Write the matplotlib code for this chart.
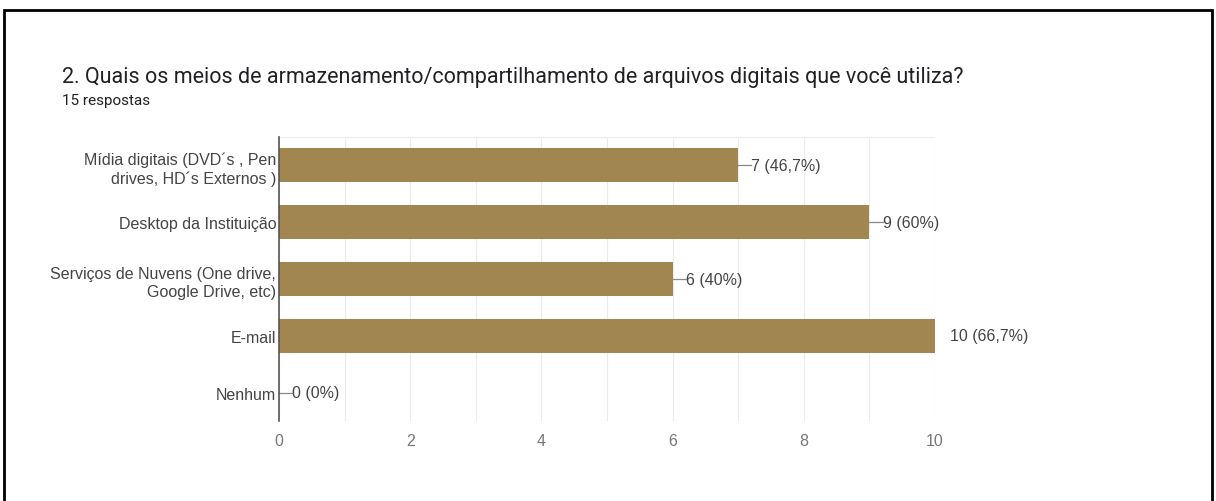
import numpy as np
import matplotlib.pyplot as plt
from matplotlib.patches import Rectangle

categorias = ['Mídia digitais (DVD´s , Pen\ndrives, HD´s Externos )',
              'Desktop da Instituição',
              'Serviços de Nuvens (One drive,\nGoogle Drive, etc)',
              'E-mail',
              'Nenhum']
valores = [7, 9, 6, 10, 0]
rotulos = ['7 (46,7%)', '9 (60%)', '6 (40%)', '10 (66,7%)', '0 (0%)']
xticks = [0, 2, 4, 6, 8, 10]

fig = plt.figure(figsize=(12.16, 5.02), dpi=100)
ax = fig.add_axes([279 / 1216, 1 - 422 / 502, (935 - 279) / 1216, (422 - 138) / 502])

y = np.arange(len(categorias))
ax.barh(y, valores, height=0.6, color='#a28650', zorder=3)
ax.set_ylim(len(categorias) - 0.5, -0.5)
ax.set_xlim(0, 10)

ax.set_yticks(y)
ax.set_yticklabels(categorias, family='Liberation Sans', fontsize=11.5, color='#444444',
                   linespacing=1.25)
ax.set_xticks(xticks)
ax.set_xticklabels([str(t) for t in xticks], family='Liberation Sans', fontsize=11.5, color='#777777')
ax.set_xticks(range(0, 11), minor=True)
ax.tick_params(axis='y', length=0, pad=2)
ax.tick_params(axis='x', length=0, pad=9)
ax.tick_params(which='minor', length=0)
ax.grid(axis='x', which='both', color='#ebebeb', linewidth=0.8, zorder=0)

for s in ['top', 'right', 'bottom']:
    ax.spines[s].set_visible(False)
ax.spines['left'].set_color('#555555')
ax.spines['left'].set_linewidth(1.2)
ax.spines['left'].set_zorder(4)
ax.axhline(len(categorias) - 0.5, color='#ebebeb', linewidth=0.8, zorder=0)
ax.axhline(-0.5, color='#ebebeb', linewidth=0.8, zorder=0)

for i, (v, r) in enumerate(zip(valores, rotulos)):
    if v >= 10:
        ax.text(v + 0.23, i, r, va='center', ha='left', family='Liberation Sans',
                fontsize=11.5, color='#444444')
    else:
        ax.plot([v, v + 0.2], [i, i], color='#888888', linewidth=0.9, zorder=4, clip_on=False)
        ax.text(v + 0.2, i, r, va='center', ha='left', family='Liberation Sans',
                fontsize=11.5, color='#444444')

fig.text(62 / 1216, 1 - 77 / 502,
         '2. Quais os meios de armazenamento/compartilhamento de arquivos digitais que você utiliza?',
         family='Roboto', fontsize=15.5, color='#202124', va='center', ha='left')
fig.text(62 / 1216, 1 - 101 / 502, '15 respostas', family='Roboto', fontsize=11,
         color='#202124', va='center', ha='left')

fig.patches.append(Rectangle((4 / 1216, -0.1), (1212 - 4) / 1216, 1.1 - 11 / 502,
                             transform=fig.transFigure, fill=False,
                             edgecolor='black', linewidth=2))

fig.savefig('out.png', dpi=100)
